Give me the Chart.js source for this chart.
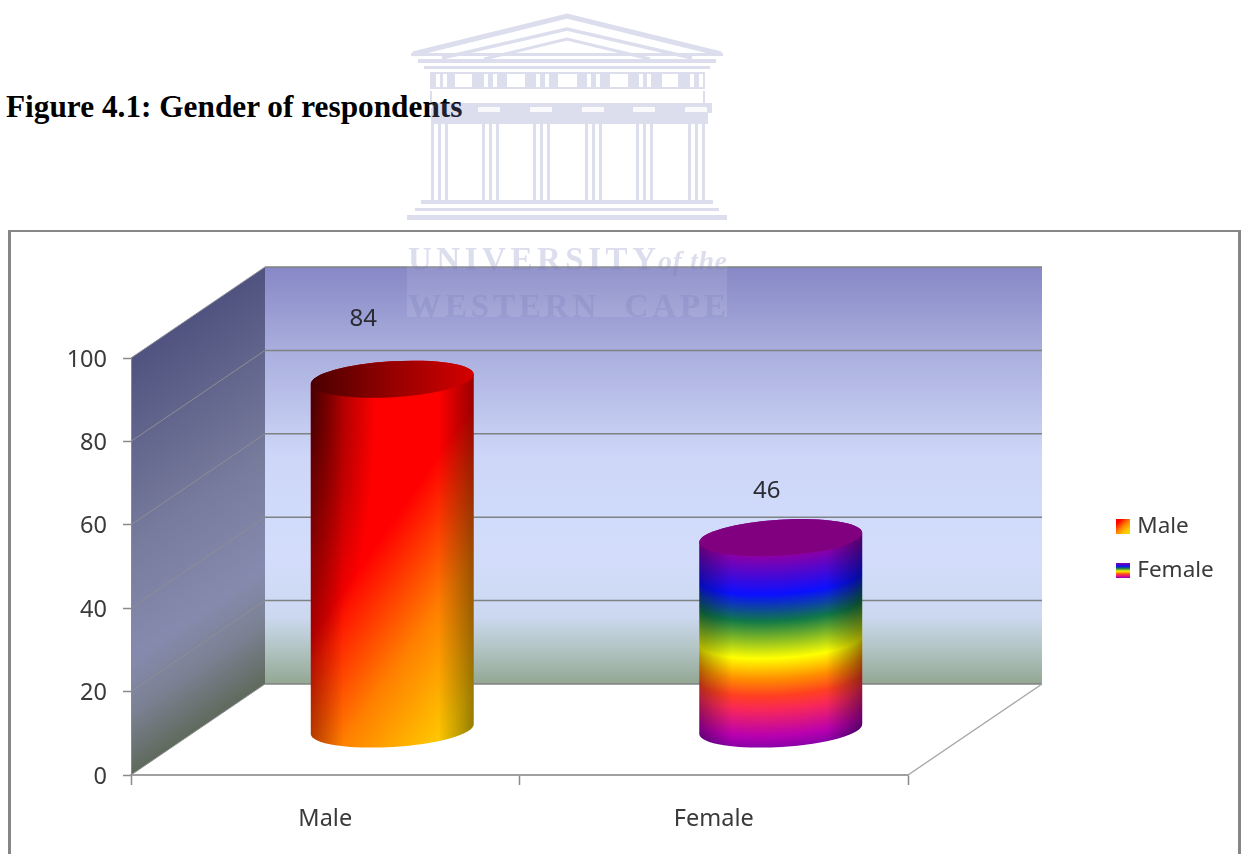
<!DOCTYPE html>
<html>
<head>
<meta charset="utf-8">
<title>Gender of respondents</title>
<script src="https://cdn.jsdelivr.net/npm/chart.js@4"></script>
<style>
  html, body { margin: 0; background: #fff; }
  #page { position: relative; width: 1242px; height: 854px; overflow: hidden; }
  #fig-title { position: absolute; left: 6px; top: 89px; font: bold 31.3px "Liberation Serif", serif; color: #000; white-space: nowrap; }
  #frame { position: absolute; left: 8px; top: 230px; width: 1233px; height: 640px; border: 3px solid #868686; border-top-width: 2px; box-sizing: border-box; }
  #gender-chart { position: absolute; left: 0; top: 0; }
  #crest { position: absolute; left: 0; top: 0; pointer-events: none; }
</style>
</head>
<body>
<div id="page">
  <div id="fig-title">Figure 4.1: Gender of respondents</div>
  <div id="frame"></div>
  <canvas id="gender-chart" width="1242" height="854"></canvas>

  <!-- university crest sits over the page -->
  <svg id="crest" width="1242" height="854">
    <rect x="407" y="245" width="320" height="72" fill="#fff" opacity="0.1"/>
    <g opacity="0.26" fill="#787db9">
      <g fill="none" stroke="#787db9">
        <path stroke-width="5" d="M413 54 L567 16 L721 54"/>
        <path stroke-width="3.5" d="M442 58 L567 29 L692 58"/>
        <path stroke-width="3" d="M484 59 L567 39 L650 59"/>
      </g>
      <rect x="411" y="53" width="312" height="3"/>
      <rect x="418" y="59" width="298" height="4"/>
      <rect x="424" y="66" width="286" height="3"/>
      <path fill-rule="evenodd" d="M430 72 L705 72 L705 89 L430 89 Z
        M455 74 L472 74 L472 87 L455 87 Z M507 74 L525 74 L525 87 L507 87 Z M558 74 L577 74 L577 87 L558 87 Z
        M610 74 L628 74 L628 87 L610 87 Z M662 74 L678 74 L678 87 L662 87 Z
        M436 74 L440 74 L440 87 L436 87 Z M443 74 L447 74 L447 87 L443 87 Z
        M484 74 L488 74 L488 87 L484 87 Z M493 74 L497 74 L497 87 L493 87 Z
        M536 74 L540 74 L540 87 L536 87 Z M545 74 L549 74 L549 87 L545 87 Z
        M587 74 L591 74 L591 87 L587 87 Z M596 74 L600 74 L600 87 L596 87 Z
        M639 74 L643 74 L643 87 L639 87 Z M647 74 L651 74 L651 87 L647 87 Z
        M690 74 L694 74 L694 87 L690 87 Z M699 74 L703 74 L703 87 L699 87 Z"/>
      <rect x="430" y="91" width="2" height="12"/><rect x="703" y="91" width="2" height="12"/>
      <path d="M432 103 L712 103 L712 113 L708 113 L708 124 L432 124 Z"/>
      <rect x="431" y="108" width="3" height="92"/><rect x="438" y="108" width="3" height="92"/><rect x="445" y="108" width="3" height="92"/>
      <rect x="482" y="112" width="3" height="88"/><rect x="489" y="112" width="3" height="88"/><rect x="496" y="112" width="3" height="88"/>
      <rect x="533" y="112" width="3" height="88"/><rect x="540" y="112" width="3" height="88"/><rect x="547" y="112" width="3" height="88"/>
      <rect x="585" y="112" width="3" height="88"/><rect x="592" y="112" width="3" height="88"/><rect x="599" y="112" width="3" height="88"/>
      <rect x="636" y="112" width="3" height="88"/><rect x="643" y="112" width="3" height="88"/><rect x="650" y="112" width="3" height="88"/>
      <rect x="688" y="112" width="3" height="88"/><rect x="695" y="112" width="3" height="88"/><rect x="702" y="112" width="3" height="88"/>
      <rect x="421" y="200" width="292" height="4"/>
      <rect x="415" y="208" width="304" height="3"/>
      <rect x="407" y="215" width="320" height="5"/>
      <g font-family="Liberation Serif" font-weight="bold" font-size="33">
        <text x="408" y="270" textLength="248">UNIVERSITY</text>
        <text x="658" y="270" textLength="69" font-style="italic" font-size="28">of the</text>
        <text x="408" y="317" textLength="318" xml:space="preserve">WESTERN  CAPE</text>
      </g>
    </g>
    <g fill="#fff" opacity="0.85">
      <rect x="478" y="107" width="22" height="5"/><rect x="530" y="107" width="22" height="5"/>
      <rect x="582" y="107" width="22" height="5"/><rect x="633" y="107" width="22" height="5"/>
      <rect x="685" y="107" width="22" height="5"/>
    </g>
  </svg>
</div>

<script>
  // Survey counts
  const categories = ['Male', 'Female'];
  const respondents = [84, 46];
  const yTickValues = [0, 20, 40, 60, 80, 100];

  // Projection of the 3D box: how far the back wall sits behind the front plane
  const DEPTH_X = 134;
  const DEPTH_Y = 91;
  const LINE_GRAY = '#8a8a8a';

  // Small nudges for the value captions, [x, y] from the top of each cylinder
  const captionNudge = [[-29, -60], [-14, -47]];

  const maleStops = [[0, '#ff0000'], [0.18, '#ff0000'], [0.5, '#ff8000'], [0.78, '#ffc800'], [1, '#e8e000']];
  const femaleStops = [
    [0, '#8a00a8'], [0.2, '#0a10ff'], [0.34, '#107848'], [0.535, '#ffff00'], [0.64, '#ff9000'],
    [0.73, '#ff4020'], [0.8, '#f82858'], [0.94, '#b800b0'], [1, '#8a00a8']
  ];

  function addStops(gradient, stops) {
    stops.forEach(([at, color]) => gradient.addColorStop(at, color));
    return gradient;
  }

  function legendSwatch(stops, diagonal) {
    const swatch = document.createElement('canvas');
    swatch.width = 14;
    swatch.height = 15;
    const c = swatch.getContext('2d');
    c.fillStyle = addStops(c.createLinearGradient(0, 0, diagonal ? 14 : 0, 15), stops);
    c.fillRect(0, 0, 14, 15);
    return swatch;
  }

  // Walls, floor and gridlines of the 3D box
  const boxPlugin = {
    id: 'box3d',
    beforeDraw(chart) {
      const { ctx, chartArea: a, scales: { y } } = chart;
      const backLeft = a.left + DEPTH_X;
      const backRight = a.right + DEPTH_X;
      const backTop = a.top - DEPTH_Y;
      const backBottom = a.bottom - DEPTH_Y;

      ctx.save();
      const back = ctx.createLinearGradient(0, backTop, 0, backBottom);
      addStops(back, [[0, '#8788c6'], [0.2, '#a9aedd'], [0.45, '#cdd6f8'], [0.7, '#d3ddfb'], [0.84, '#ccd8f0'], [0.91, '#b4c6c6'], [1, '#93a793']]);
      ctx.fillStyle = back;
      ctx.fillRect(backLeft, backTop, backRight - backLeft, backBottom - backTop);

      // isolines of the side wall run along its perspective slope
      const midX = a.left + DEPTH_X / 2;
      const midY = a.top - DEPTH_Y / 2;
      const side = ctx.createLinearGradient(midX, midY, midX + 194, midY + 286);
      addStops(side, [[0, '#50537f'], [0.45, '#777b9c'], [0.72, '#868aae'], [0.85, '#7b8193'], [1, '#5f6a5c']]);
      ctx.fillStyle = side;
      ctx.beginPath();
      ctx.moveTo(a.left, a.top);
      ctx.lineTo(backLeft, backTop);
      ctx.lineTo(backLeft, backBottom);
      ctx.lineTo(a.left, a.bottom);
      ctx.closePath();
      ctx.fill();

      // gridlines across both walls
      y.ticks.forEach(tick => {
        const py = y.getPixelForValue(tick.value);
        ctx.strokeStyle = '#8c8f94';
        ctx.lineWidth = 1;
        ctx.beginPath();
        ctx.moveTo(a.left, py);
        ctx.lineTo(backLeft, py - DEPTH_Y);
        ctx.stroke();
        ctx.strokeStyle = '#7f8283';
        ctx.lineWidth = 1.5;
        ctx.beginPath();
        ctx.moveTo(backLeft, py - DEPTH_Y);
        ctx.lineTo(backRight, py - DEPTH_Y);
        ctx.stroke();
      });

      // floor edge on the right
      ctx.strokeStyle = '#a6a6a6';
      ctx.lineWidth = 1.5;
      ctx.beginPath();
      ctx.moveTo(a.right, a.bottom);
      ctx.lineTo(backRight, backBottom);
      ctx.stroke();
      ctx.restore();
    },
    // the legend overlays the free space to the right of the box
    afterLayout(chart) {
      const legend = chart.legend;
      legend.left = 1120 - legend.options.labels.padding;
      legend.right = 1240;
      legend.top = 493;
      legend.bottom = 620;
    }
  };

  function cylinderOutline(ctx, cx, topY, baseY, rx, ry, tilt) {
    ctx.beginPath();
    ctx.ellipse(cx, baseY, rx, ry, tilt, Math.PI, 0, true);
    ctx.ellipse(cx, topY, rx, ry, tilt, 0, Math.PI, true);
    ctx.closePath();
  }

  // Each bar is painted as a cylinder standing halfway into the box
  const cylinderPlugin = {
    id: 'cylinders',
    afterDatasetsDraw(chart) {
      const { ctx } = chart;
      chart.getDatasetMeta(0).data.forEach((bar, i) => {
        const cx = bar.x + DEPTH_X / 2;
        const rx = bar.width / 2;
        const ry = rx * 0.22;
        const tilt = -0.06;
        const topY = bar.y - DEPTH_Y / 2;
        const baseY = bar.base - DEPTH_Y / 2;
        const fillX = cx - rx - 1;
        const fillY = topY - ry - 8;
        const fillW = rx * 2 + 2;
        const fillH = baseY - topY + ry * 2 + 16;

        ctx.save();
        cylinderOutline(ctx, cx, topY, baseY, rx, ry, tilt);
        ctx.clip();
        if (i === 0) {
          // fire runs diagonally, red at upper left to yellow at lower right
          const fire = ctx.createLinearGradient(cx + 10, topY + 42, cx + 234, topY + 199);
          ctx.fillStyle = addStops(fire, maleStops);
          ctx.fillRect(fillX, fillY, fillW, fillH);
          // the left edge darkens mostly near the top
          ctx.save();
          ctx.translate(cx - rx, topY + 20);
          ctx.scale(0.25, 1);
          const glow = ctx.createRadialGradient(0, 0, 0, 0, 0, 260);
          addStops(glow, [[0, 'rgba(0,0,0,0.6)'], [1, 'rgba(0,0,0,0)']]);
          ctx.fillStyle = glow;
          ctx.fillRect(-10, -60, 300, 340);
          ctx.restore();
        } else {
          // rainbow bands follow the curve of the base ellipse, one column at a time
          for (let x = Math.floor(cx - rx); x <= cx + rx; x++) {
            const t = (x + 0.5 - cx) / rx;
            const bend = ry * Math.sqrt(Math.max(0, 1 - t * t)) + Math.tan(tilt) * (x + 0.5 - cx);
            const band = ctx.createLinearGradient(0, topY + bend, 0, baseY + bend);
            ctx.fillStyle = addStops(band, femaleStops);
            ctx.fillRect(x, fillY, 1, fillH);
          }
        }
        const shade = ctx.createLinearGradient(cx - rx, 0, cx + rx, 0);
        addStops(shade, [[0, 'rgba(0,0,0,0.3)'], [0.2, 'rgba(0,0,0,0)'], [0.78, 'rgba(0,0,0,0)'], [1, 'rgba(0,0,0,0.4)']]);
        ctx.fillStyle = shade;
        ctx.fillRect(fillX, fillY, fillW, fillH);
        ctx.restore();

        // top cap
        ctx.save();
        if (i === 0) {
          const cap = ctx.createLinearGradient(cx - rx, 0, cx + rx, 0);
          ctx.fillStyle = addStops(cap, [[0, '#4a0000'], [0.5, '#960000'], [1, '#d40000']]);
        } else {
          ctx.fillStyle = '#800080';
        }
        ctx.beginPath();
        ctx.ellipse(cx, topY, rx, ry, tilt, 0, Math.PI * 2);
        ctx.fill();

        // value caption
        ctx.fillStyle = '#2b2b33';
        ctx.font = '24px "Noto Sans"';
        ctx.textAlign = 'center';
        ctx.textBaseline = 'middle';
        ctx.fillText(String(respondents[i]), cx + captionNudge[i][0], topY + captionNudge[i][1]);
        ctx.restore();
      });
    }
  };

  new Chart(document.getElementById('gender-chart'), {
    type: 'bar',
    data: {
      labels: categories,
      datasets: [{
        data: respondents,
        backgroundColor: 'transparent',
        barPercentage: 1,
        categoryPercentage: 0.42
      }]
    },
    plugins: [boxPlugin, cylinderPlugin],
    options: {
      responsive: false,
      animation: false,
      events: [],
      layout: { padding: { top: 358, right: 334, left: 0, bottom: 0 } },
      scales: {
        x: {
          afterFit: s => { s.height = 79; },
          grid: { offset: true, drawOnChartArea: false, tickLength: 10, tickColor: LINE_GRAY, tickWidth: 1.5 },
          border: { color: '#a0a0a0', width: 2 },
          ticks: { color: '#3a3a3a', padding: 20, font: { family: '"Noto Sans"', size: 23.5 } }
        },
        y: {
          min: 0,
          max: 100,
          afterFit: s => { s.width = 131; },
          afterBuildTicks: s => { s.ticks = yTickValues.map(value => ({ value })); },
          grid: { drawOnChartArea: false, tickLength: 8, tickColor: LINE_GRAY, tickWidth: 1.5 },
          border: { color: LINE_GRAY, width: 1 },
          ticks: { color: '#3a3a3a', padding: 16, labelOffset: 2, font: { family: '"Noto Sans"', size: 23.5 } }
        }
      },
      plugins: {
        tooltip: { enabled: false },
        title: { display: false },
        legend: {
          position: 'chartArea',
          align: 'start',
          labels: {
            usePointStyle: true,
            boxWidth: 6,
            boxHeight: 6,
            padding: 22,
            color: '#3a3a3a',
            font: { family: '"Noto Sans"', size: 22.5 },
            generateLabels: () => [
              { text: categories[0], pointStyle: legendSwatch(maleStops, true), fontColor: '#3a3a3a' },
              { text: categories[1], pointStyle: legendSwatch(femaleStops, false), fontColor: '#3a3a3a' }
            ]
          }
        }
      }
    }
  });
</script>
</body>
</html>
